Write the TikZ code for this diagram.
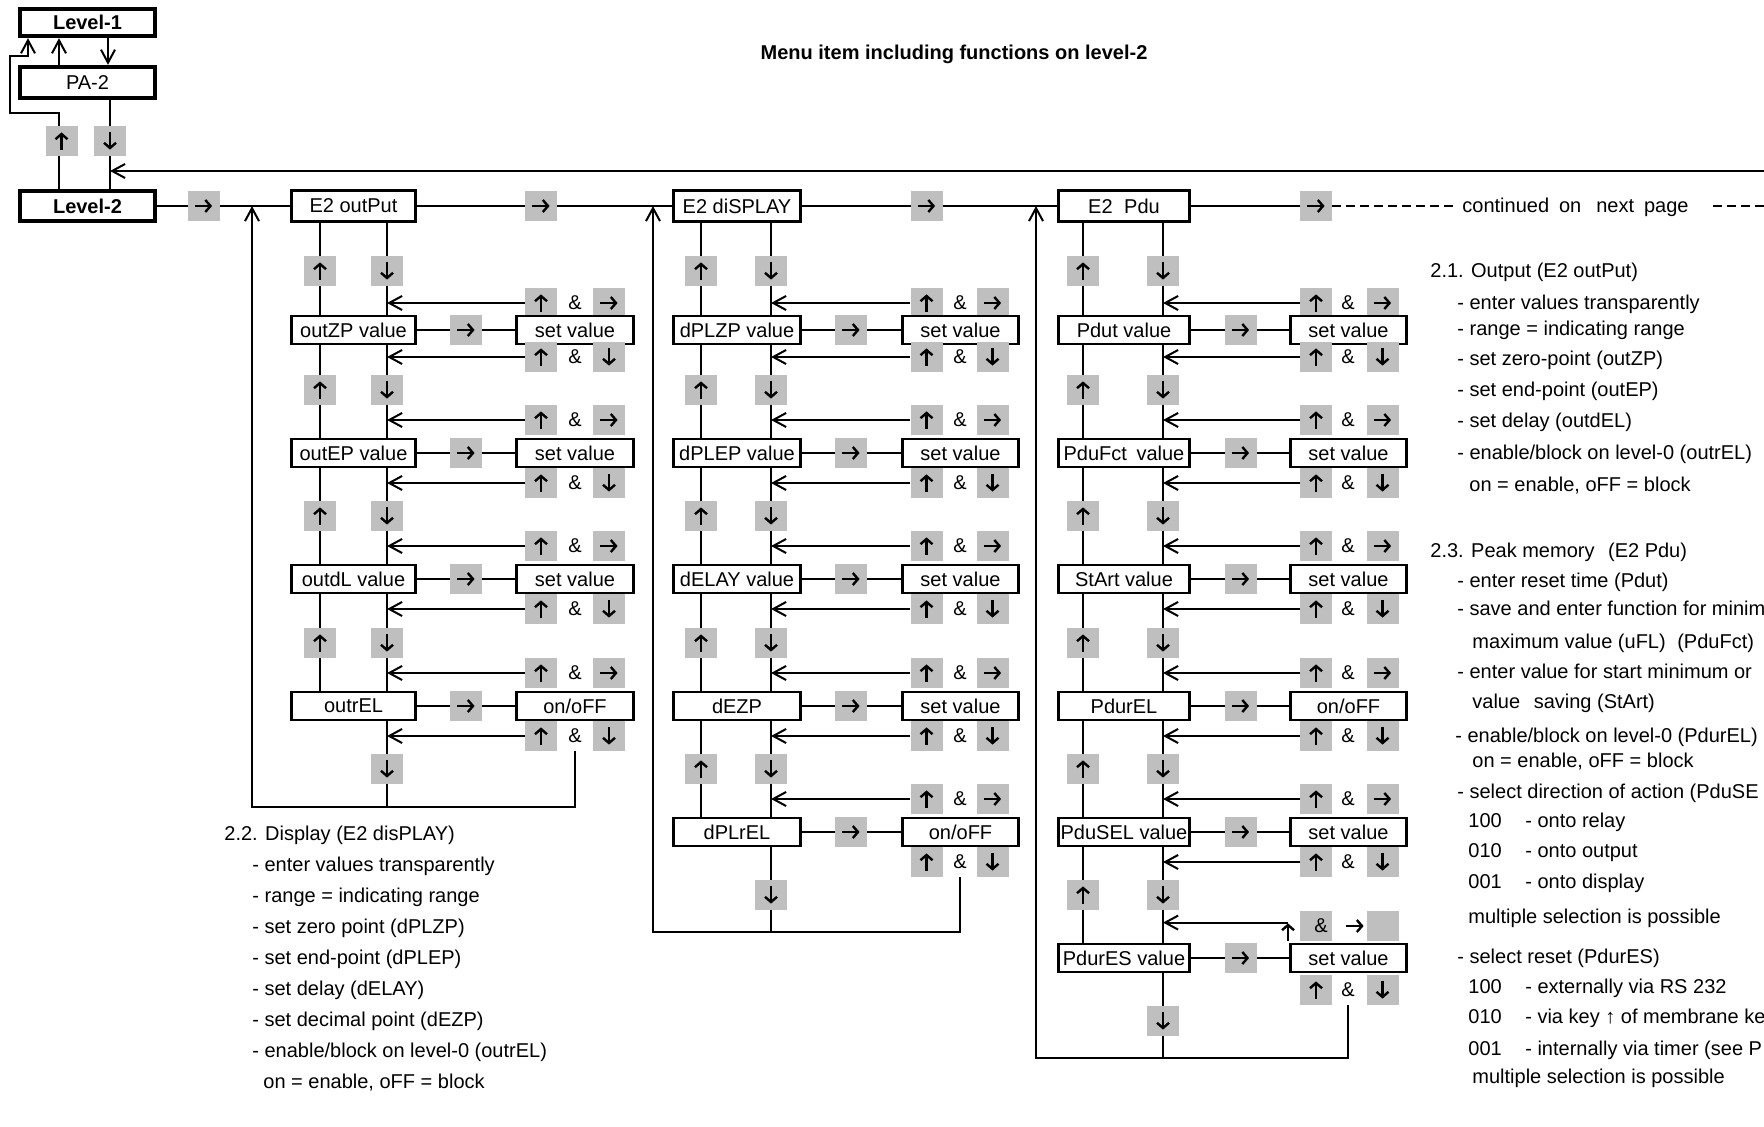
\documentclass[tikz,border=0pt]{standalone}
\usepackage{fontspec}
\setmainfont{Liberation Sans}
\usetikzlibrary{arrows.meta,backgrounds}
\tikzset{
  line/.style={line width=1pt},
  arr/.style={-{Straight Barb[length=6.5pt,width=7pt]}},
  lbl/.style={font=\fontsize{10}{12}\selectfont},
  box/.style={lbl, draw, line width=1.4pt, fill=white, inner sep=0pt, minimum height=14pt},
  lvl/.style={lbl, draw, line width=2.2pt, fill=white, inner sep=0pt, minimum width=67.5pt},
  glyph/.style={line width=1.2pt, -{Straight Barb[length=2.6pt,width=6pt]}},
  gbase/.style={inner sep=0pt, minimum width=16pt, minimum height=15pt},
  gU/.style={gbase, path picture={\draw[glyph] ([yshift=-4.3pt]path picture bounding box.center) -- ([yshift=4.3pt]path picture bounding box.center);}},
  gD/.style={gbase, path picture={\draw[glyph] ([yshift=4.3pt]path picture bounding box.center) -- ([yshift=-4.3pt]path picture bounding box.center);}},
  gR/.style={gbase, path picture={\draw[glyph] ([xshift=-4.3pt]path picture bounding box.center) -- ([xshift=4.3pt]path picture bounding box.center);}},
  kU/.style={gU, fill=black!25},
  kD/.style={gD, fill=black!25},
  kR/.style={gR, fill=black!25},
  kE/.style={gbase, fill=black!25},
  amp/.style={lbl, inner sep=0pt},
  txt/.style={lbl, inner sep=0pt, anchor=base west},
  dashline/.style={line width=1pt, dash pattern=on 4.5pt off 2.5pt},
}
% one row: value box, gray arrow, set box
\newcommand\vrow[4]{%
  \node[box, minimum width=\cBW] (#1) at (\cBX,#2) {#3};
  \node[box, minimum width=\cSW] (#1s) at (\cSX,#2) {#4};
  \node[kR] (#1g) at (\cGX,#2) {};
  \begin{scope}[on background layer]\draw[line] (#1.east) -- (#1s.west);\end{scope}}
% up & right keys with return arrow
\newcommand\kup[2]{%
  \node[kU] (#1u) at (\cAX,#2) {};
  \node[amp] (#1m) at (\cEX,#2) {\&};
  \node[kR] (#1r) at (\cRX,#2) {};
  \begin{scope}[on background layer]\draw[line,arr] (#1u.west) -- (#1u.west -| cdcur);\end{scope}}
% up & down keys with return arrow
\newcommand\kdn[2]{%
  \node[kU] (#1u) at (\cAX,#2) {};
  \node[amp] (#1m) at (\cEX,#2) {\&};
  \node[kD] (#1r) at (\cRX,#2) {};
  \begin{scope}[on background layer]\draw[line,arr] (#1u.west) -- (#1u.west -| cdcur);\end{scope}}
% up & down keys without return arrow
\newcommand\kdnN[2]{%
  \node[kU] (#1u) at (\cAX,#2) {};
  \node[amp] (#1m) at (\cEX,#2) {\&};
  \node[kD] (#1r) at (\cRX,#2) {};}
% keys between rows on the vertical lines
\newcommand\kbt[2]{%
  \node[kU] (#1u) at (\cUX,#2) {};
  \node[kD] (#1d) at (\cDX,#2) {};}
\begin{document}
\begin{tikzpicture}[x=0.5pt,y=-0.5pt]
\useasboundingbox (0,0) rectangle (1764,1127);
\clip (0,0) rectangle (1764,1127);

% ---------------- top left
\node[lvl, minimum height=13.5pt, font=\fontsize{10}{12}\selectfont\bfseries] (L1) at (87.5,22.5) {Level-1};
\node[lvl, minimum height=15.5pt] (PA2) at (87.5,82.5) {PA-2};
\node[lvl, minimum height=15pt, font=\fontsize{10}{12}\selectfont\bfseries] (L2) at (87.5,206) {Level-2};
\node[kU] (lu) at (61.5,141) {};
\node[kD] (ld) at (110,141) {};
\node[kR] (lg) at (203.5,206) {};
\coordinate (xa) at (59,0);
\coordinate (xb) at (108,0);
\coordinate (xc) at (110,0);
\coordinate (p1) at (59,113);
\coordinate (p2) at (10,113);
\coordinate (p3) at (10,56);
\coordinate (p4) at (28,56);
\coordinate (topR) at (1764,171);

\node[lbl, font=\fontsize{10}{12}\selectfont\bfseries] (title) at (954,54) {Menu item including functions on level-2};

% ---------------- top row
\node[box, minimum width=62pt, minimum height=15.5pt] (E2o) at (353.5,206) {E2 outPut};
\node[box, minimum width=63.5pt, minimum height=15.5pt] (E2d) at (737,206) {E2 diSPLAY};
\node[box, minimum width=65.5pt, minimum height=15.5pt] (E2p) at (1124,206) {E2\hspace{3pt} Pdu};
\node[kR] (g1) at (541,206) {};
\node[kR] (g2) at (926.5,206) {};
\node[kR] (g3) at (1316,206) {};
\node[txt] (cont) at (1462,213) {continued\hspace{2.2pt} on\hspace{4.7pt} next\hspace{2.2pt} page};
\coordinate (dl) at ([xshift=-3.5pt]cont.west);
\coordinate (dr) at ([xshift=12pt]cont.east);
\coordinate (edge) at (1764,206);

% ---------------- column 1
\def\cBX{353.5}\def\cBW{62pt}\def\cUX{320}\def\cDX{387}\def\cGX{466}
\def\cSX{575}\def\cSW{58.5pt}\def\cAX{541}\def\cEX{575}\def\cRX{609}
\coordinate (cdcur) at (\cDX,0);
\coordinate (cd1) at (\cDX,0);
\coordinate (cu1) at (\cUX,0);
\coordinate (r1) at (252,807);
\kbt{a0}{271}\kup{a0p}{303}\vrow{A0}{330}{outZP value}{set value}\kdn{a0q}{357}
\kbt{a1}{390}\kup{a1p}{420}\vrow{A1}{453}{outEP value}{set value}\kdn{a1q}{483}
\kbt{a2}{516}\kup{a2p}{546}\vrow{A2}{579}{outdL value}{set value}\kdn{a2q}{609}
\kbt{a3}{643}\kup{a3p}{673}\vrow{A3}{706}{outrEL}{on/oFF}\kdn{a3q}{736}
\node[kD] (a4d) at (\cDX,769) {};

% ---------------- column 2
\def\cBX{737}\def\cBW{63.5pt}\def\cUX{701}\def\cDX{771}\def\cGX{851}
\def\cSX{960.5}\def\cSW{58pt}\def\cAX{926.5}\def\cEX{960}\def\cRX{992.5}
\coordinate (cdcur) at (\cDX,0);
\coordinate (cd2) at (\cDX,0);
\coordinate (cu2) at (\cUX,0);
\coordinate (r2) at (653,932);
\kbt{b0}{271}\kup{b0p}{303}\vrow{B0}{330}{dPLZP value}{set value}\kdn{b0q}{357}
\kbt{b1}{390}\kup{b1p}{420}\vrow{B1}{453}{dPLEP value}{set value}\kdn{b1q}{483}
\kbt{b2}{516}\kup{b2p}{546}\vrow{B2}{579}{dELAY value}{set value}\kdn{b2q}{609}
\kbt{b3}{643}\kup{b3p}{673}\vrow{B3}{706}{dEZP}{set value}\kdn{b3q}{736}
\kbt{b4}{769}\kup{b4p}{799}\vrow{B4}{832}{dPLrEL}{on/oFF}\kdnN{b4q}{862}
\node[kD] (b5d) at (\cDX,895) {};

% ---------------- column 3
\def\cBX{1124}\def\cBW{65.5pt}\def\cUX{1083}\def\cDX{1163}\def\cGX{1240.5}
\def\cSX{1348.5}\def\cSW{58pt}\def\cAX{1316}\def\cEX{1348}\def\cRX{1382.5}
\coordinate (cdcur) at (\cDX,0);
\coordinate (cd3) at (\cDX,0);
\coordinate (cu3) at (\cUX,0);
\coordinate (r3) at (1036,1058);
\kbt{c0}{271}\kup{c0p}{303}\vrow{C0}{330}{Pdut value}{set value}\kdn{c0q}{357}
\kbt{c1}{390}\kup{c1p}{420}\vrow{C1}{453}{PduFct\hspace{2pt} value}{set value}\kdn{c1q}{483}
\kbt{c2}{516}\kup{c2p}{546}\vrow{C2}{579}{StArt value}{set value}\kdn{c2q}{609}
\kbt{c3}{643}\kup{c3p}{673}\vrow{C3}{706}{PdurEL}{on/oFF}\kdn{c3q}{736}
\kbt{c4}{769}\kup{c4p}{799}\vrow{C4}{832}{PduSEL value}{set value}\kdn{c4q}{862}
\kbt{c5}{895}
\node[gU, minimum height=9pt] (c5pu) at (1288,932) {};
\node[kE] (c5pe) at (1316,926) {};
\node[amp] (c5pm) at (1321,926) {\&};
\node[gR, minimum width=10pt] (c5pr) at (1355,926) {};
\node[kE] (c5pf) at (1382.5,926) {};
\vrow{C5}{958}{PdurES value}{set value}\kdnN{c5q}{990}
\node[kD] (c6d) at (\cDX,1021) {};

% ---------------- connectors
\begin{scope}[on background layer]
  % top left
  \draw[line,arr] (L1.south -| xb) -- (PA2.north -| xb);
  \draw[line,arr] (PA2.north -| xa) -- (L1.south -| xa);
  \draw[line,arr] (L2.north -| p1) -- (p1) -- (p2) -- (p3) -- (p4) -- (L1.south -| p4);
  \draw[line] (PA2.south -| xc) -- (L2.north -| xc);
  \draw[line,arr] (topR) -- (topR -| xc);
  % main line
  \draw[line] (L2.east) -- (E2o.west);
  \draw[line] (E2o.east) -- (E2d.west);
  \draw[line] (E2d.east) -- (E2p.west);
  \draw[line] (E2p.east) -- (g3.west);
  \draw[dashline] (g3.east) -- (g3.east -| dl);
  \draw[dashline] (g3.east -| dr) -- (edge);
  % column 1
  \draw[line] (E2o.south -| cu1) -- (A3.north -| cu1);
  \draw[line] (E2o.south -| cd1) -- (cd1 |- r1);
  \draw[line,arr] ([yshift=-4pt]a3qm.south) -- (a3qm.south |- r1) -- (r1) -- (E2o.west -| r1);
  % column 2
  \draw[line] (E2d.south -| cu2) -- (B4.north -| cu2);
  \draw[line] (E2d.south -| cd2) -- (cd2 |- r2);
  \draw[line,arr] ([yshift=-4pt]b4qm.south) -- (b4qm.south |- r2) -- (r2) -- (E2d.west -| r2);
  % column 3
  \draw[line] (E2p.south -| cu3) -- (C5.north -| cu3);
  \draw[line] (E2p.south -| cd3) -- (cd3 |- r3);
  \draw[line,arr] (c5pu.north) -- (c5pu.north -| cd3);
  \draw[line,arr] ([yshift=-4pt]c5qm.south) -- (c5qm.south |- r3) -- (r3) -- (E2p.west -| r3);
\end{scope}

% ---------------- text blocks
\node[txt] (s1) at (1430,278) {2.1. Output (E2 outPut)};
\node[txt] (s2) at (1457,310) {- enter values transparently};
\node[txt] (s3) at (1457,336) {- range = indicating range};
\node[txt] (s4) at (1457,366) {- set zero-point (outZP)};
\node[txt] (s5) at (1457,397) {- set end-point (outEP)};
\node[txt] (s6) at (1457,428) {- set delay (outdEL)};
\node[txt] (s7) at (1457,460) {- enable/block on level-0 (outrEL)};
\node[txt] (s8) at (1469,492) {on = enable, oFF = block};

\node[txt] (u1) at (1430,557) {2.3. Peak memory\hspace{4pt} (E2 Pdu)};
\node[txt] (u2) at (1457,587) {- enter reset time (Pdut)};
\node[txt] (u3) at (1457,615) {- save and enter function for minim};
\node[txt] (u4) at (1472,648) {maximum value (uFL)\hspace{3pt} (PduFct)};
\node[txt] (u5) at (1457,678) {- enter value for start minimum or};
\node[txt] (u6) at (1472,708) {value\hspace{4pt} saving (StArt)};
\node[txt] (u7) at (1455,742) {- enable/block on level-0 (PdurEL)};
\node[txt] (u8) at (1472,767) {on = enable, oFF = block};
\node[txt] (u9) at (1457,798) {- select direction of action (PduSE};
\node[txt] (u10) at (1468,827) {100\hspace{9pt} - onto relay};
\node[txt] (u11) at (1468,857) {010\hspace{9pt} - onto output};
\node[txt] (u12) at (1468,888) {001\hspace{9pt} - onto display};
\node[txt] (u13) at (1468,923) {multiple selection is possible};
\node[txt] (u14) at (1457,963) {- select reset (PdurES)};
\node[txt] (u15) at (1468,993) {100\hspace{9pt} - externally via RS 232};
\node[txt] (u16) at (1468,1023) {010\hspace{9pt} - via key ↑ of membrane ke};
\node[txt] (u17) at (1468,1055) {001\hspace{9pt} - internally via timer (see P};
\node[txt] (u18) at (1472,1083) {multiple selection is possible};

\node[txt] (d1) at (224,840) {2.2. Display (E2 disPLAY)};
\node[txt] (d2) at (252,871) {- enter values transparently};
\node[txt] (d3) at (252,902) {- range = indicating range};
\node[txt] (d4) at (252,933) {- set zero point (dPLZP)};
\node[txt] (d5) at (252,964) {- set end-point (dPLEP)};
\node[txt] (d6) at (252,995) {- set delay (dELAY)};
\node[txt] (d7) at (252,1026) {- set decimal point (dEZP)};
\node[txt] (d8) at (252,1057) {- enable/block on level-0 (outrEL)};
\node[txt] (d9) at (263,1088) {on = enable, oFF = block};
\end{tikzpicture}
\end{document}
